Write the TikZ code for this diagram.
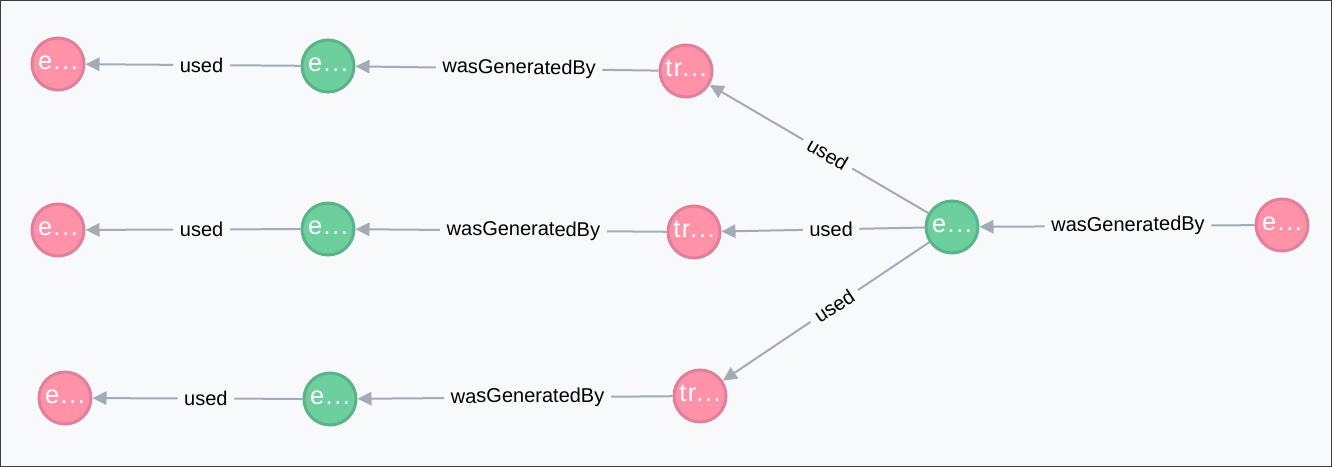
\documentclass[tikz,border=0pt]{standalone}
\usepackage{fontspec}
\setmainfont{Liberation Sans}
\usetikzlibrary{arrows.meta}
\definecolor{latar}{HTML}{F8F9FB}
\definecolor{bingkai}{HTML}{3C3C3C}
\definecolor{merah}{HTML}{FF92A8}
\definecolor{merahtepi}{HTML}{E0809A}
\definecolor{hijau}{HTML}{6DCE9E}
\definecolor{hijautepi}{HTML}{5AB485}
\definecolor{garis}{HTML}{A5ABB6}

\begin{document}
\begin{tikzpicture}[x=0.75pt,y=-0.75pt,
  simpul/.style={circle,minimum size=39pt,inner sep=0pt,line width=2.25pt,
    text=white,font=\fontsize{19}{20}\selectfont\addfontfeature{LetterSpace=6},
    text height=0.88em,text depth=0pt},
  ent/.style={simpul,fill=merah,draw=merahtepi},
  akt/.style={simpul,fill=hijau,draw=hijautepi},
  rel/.style={draw=garis,line width=1.5pt,-{Triangle[length=10.5pt,width=10pt]}},
  lbl/.style={fill=latar,inner xsep=5pt,inner ysep=1pt,font=\fontsize{15}{16}\selectfont,
    text=black,sloped,pos=0.46}]
  \fill[latar] (0,0) rectangle (1332,467);
  \draw[bingkai,line width=0.75pt] (0.5,0.5) rectangle (1331.5,466.5);

  \node[ent] (R1) at (58,64)   {e...};
  \node[akt] (G1) at (328,66)  {e...};
  \node[ent] (T1) at (686,71)  {tr...};
  \node[ent] (R2) at (58,230)  {e...};
  \node[akt] (G2) at (328,229) {e...};
  \node[ent] (T2) at (694,232) {tr...};
  \node[ent] (R3) at (65,398)  {e...};
  \node[akt] (G3) at (330,399) {e...};
  \node[ent] (T3) at (700,396) {tr...};
  \node[akt] (C)  at (952,227) {e...};
  \node[ent] (E)  at (1282,225) {e...};

  \foreach \a/\b in {G1/R1,G2/R2,G3/R3,C/T1,C/T2,C/T3}
    \draw[rel] (\a) -- node[lbl] {used} (\b);
  \foreach \a/\b in {T1/G1,T2/G2,T3/G3,E/C}
    \draw[rel] (\a) -- node[lbl] {wasGeneratedBy} (\b);
\end{tikzpicture}
\end{document}
